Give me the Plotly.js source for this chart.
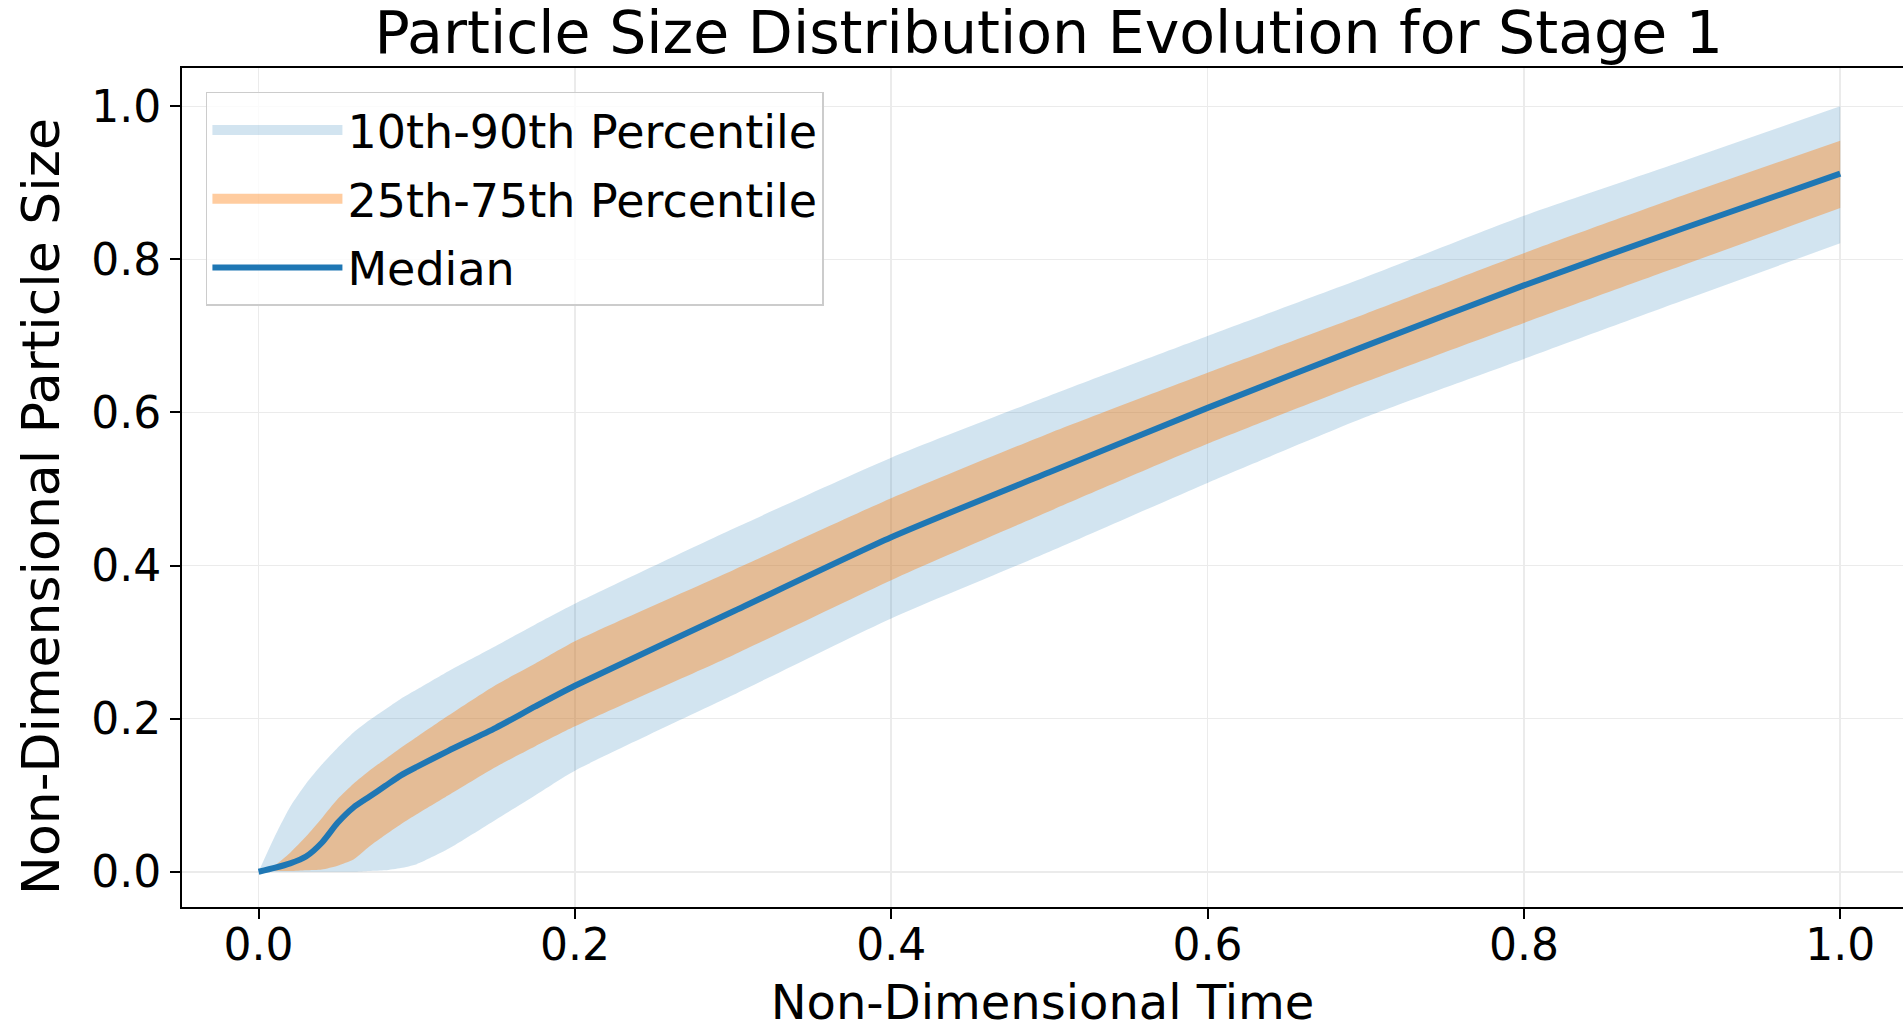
<!DOCTYPE html>
<html>
<head>
<meta charset="utf-8">
<script src="https://cdn.plot.ly/plotly-3.0.1.min.js"></script>
<style>html,body{margin:0;padding:0;background:#ffffff;overflow:hidden}</style>
</head>
<body>
<div id="chart" style="width:1903px;height:1030px"></div>
<script>
// Non-dimensional time
const time = [0, 0.01, 0.02, 0.03, 0.04, 0.05, 0.06, 0.07, 0.08, 0.09, 0.10, 0.12, 0.15, 0.175, 0.2, 0.3, 0.4, 0.5, 0.6, 0.7, 0.8, 0.9, 1.0];
// Percentiles of non-dimensional particle size
const p10 = [0, 0, 0, 0, 0, 0, 0, 0.001, 0.002, 0.005, 0.010, 0.030, 0.068, 0.100, 0.132, 0.231, 0.331, 0.418, 0.508, 0.594, 0.670, 0.746, 0.821];
const p25 = [0, 0.001, 0.001, 0.002, 0.003, 0.008, 0.016, 0.033, 0.048, 0.062, 0.075, 0.100, 0.137, 0.164, 0.190, 0.283, 0.381, 0.471, 0.559, 0.640, 0.717, 0.792, 0.867];
const median = [0, 0.005, 0.011, 0.020, 0.038, 0.064, 0.084, 0.098, 0.112, 0.126, 0.137, 0.158, 0.188, 0.216, 0.243, 0.340, 0.437, 0.522, 0.606, 0.687, 0.766, 0.840, 0.912];
const p75 = [0, 0.008, 0.025, 0.046, 0.070, 0.095, 0.115, 0.132, 0.147, 0.162, 0.176, 0.204, 0.244, 0.272, 0.301, 0.394, 0.488, 0.573, 0.652, 0.729, 0.808, 0.883, 0.955];
const p90 = [0, 0.045, 0.085, 0.115, 0.140, 0.162, 0.182, 0.198, 0.212, 0.226, 0.238, 0.262, 0.295, 0.323, 0.350, 0.448, 0.541, 0.622, 0.700, 0.777, 0.857, 0.928, 1.000];

const tickValues = [0, 0.2, 0.4, 0.6, 0.8, 1.0];
const seriesNames = ['10th-90th Percentile', '25th-75th Percentile', 'Median'];
const titleText = 'Particle Size Distribution Evolution for Stage 1';
const xTitle = 'Non-Dimensional Time';
const yTitle = 'Non-Dimensional Particle Size';

const BLUE_FILL = 'rgba(31,119,180,0.2)';
const ORANGE_FILL = 'rgba(255,127,14,0.4)';
const MEDIAN_COLOR = '#1f77b4';
const FONT = 'DejaVu Sans, Liberation Sans, sans-serif';
const SPL = {shape: 'spline', smoothing: 0.6};

const traces = [
  // 10th-90th band
  {x: time, y: p10, type: 'scatter', mode: 'lines', line: Object.assign({width: 0, color: BLUE_FILL}, SPL), showlegend: false, hoverinfo: 'skip', legendgroup: 'g1'},
  {x: time, y: p90, type: 'scatter', mode: 'lines', fill: 'tonexty', fillcolor: BLUE_FILL, line: Object.assign({width: 0, color: BLUE_FILL}, SPL), showlegend: false, legendgroup: 'g1', name: seriesNames[0]},
  // 25th-75th band
  {x: time, y: p25, type: 'scatter', mode: 'lines', line: Object.assign({width: 0, color: ORANGE_FILL}, SPL), showlegend: false, hoverinfo: 'skip', legendgroup: 'g2'},
  {x: time, y: p75, type: 'scatter', mode: 'lines', fill: 'tonexty', fillcolor: ORANGE_FILL, line: Object.assign({width: 0, color: ORANGE_FILL}, SPL), showlegend: false, legendgroup: 'g2', name: seriesNames[1]},
  // legend entries for the bands (no data of their own)
  {x: [null], y: [null], type: 'scatter', mode: 'lines', line: {width: 34, color: BLUE_FILL}, name: seriesNames[0], legendgroup: 'g1', hoverinfo: 'skip'},
  {x: [null], y: [null], type: 'scatter', mode: 'lines', line: {width: 34, color: ORANGE_FILL}, name: seriesNames[1], legendgroup: 'g2', hoverinfo: 'skip'},
  // median
  {x: time, y: median, type: 'scatter', mode: 'lines', line: Object.assign({width: 6, color: MEDIAN_COLOR}, SPL), name: seriesNames[2], legendgroup: 'g3'}
];

const layout = {
  width: 1903,
  height: 1030,
  paper_bgcolor: '#ffffff',
  plot_bgcolor: '#ffffff',
  font: {family: FONT, color: '#000000', size: 44},
  margin: {l: 182, r: 0, t: 68, b: 123, pad: 0},
  title: {
    text: titleText,
    font: {family: FONT, size: 58.5, color: '#000000'},
    xref: 'paper', x: 0.5036, xanchor: 'center',
    yref: 'container', y: 1 - 33 / 1030, yanchor: 'middle'
  },
  xaxis: {
    range: [-0.0484, 1.0397],
    tickmode: 'array',
    tickvals: tickValues,
    tickformat: '.1f',
    ticks: 'outside', ticklen: 10, tickwidth: 2, tickcolor: '#000000',
    ticklabelstandoff: -12,
    tickfont: {family: FONT, size: 44, color: '#000000'},
    showline: true, linecolor: '#000000', linewidth: 2, mirror: true,
    showgrid: true, gridcolor: '#ebebeb', gridwidth: 1.5,
    zeroline: false,
    automargin: false,
    title: {text: xTitle, font: {family: FONT, size: 48, color: '#000000'}, standoff: 28}
  },
  yaxis: {
    range: [-0.046, 1.050],
    tickmode: 'array',
    tickvals: tickValues,
    tickformat: '.1f',
    ticks: 'outside', ticklen: 10, tickwidth: 2, tickcolor: '#000000',
    tickfont: {family: FONT, size: 44, color: '#000000'},
    showline: true, linecolor: '#000000', linewidth: 2, mirror: false,
    showgrid: true, gridcolor: '#ebebeb', gridwidth: 1.5,
    zeroline: false,
    automargin: false,
    title: {text: ''}
  },
  annotations: [{
    text: yTitle,
    textangle: -90,
    xref: 'paper', x: (41 - 182) / 1721, xanchor: 'center',
    yref: 'paper', y: (907 - 507) / 839, yanchor: 'middle',
    showarrow: false,
    font: {family: FONT, size: 52, color: '#000000'}
  }],
  legend: {
    x: 0.0139, y: 0.9714, xanchor: 'left', yanchor: 'top',
    bgcolor: 'rgba(255,255,255,0.8)',
    bordercolor: '#cccccc', borderwidth: 1.5,
    font: {family: FONT, size: 46, color: '#000000'},
    itemwidth: 130,
    traceorder: 'grouped',
    tracegroupgap: 6
  },
  showlegend: true
};

Plotly.newPlot('chart', traces, layout, {displayModeBar: false, staticPlot: true});
</script>
</body>
</html>
